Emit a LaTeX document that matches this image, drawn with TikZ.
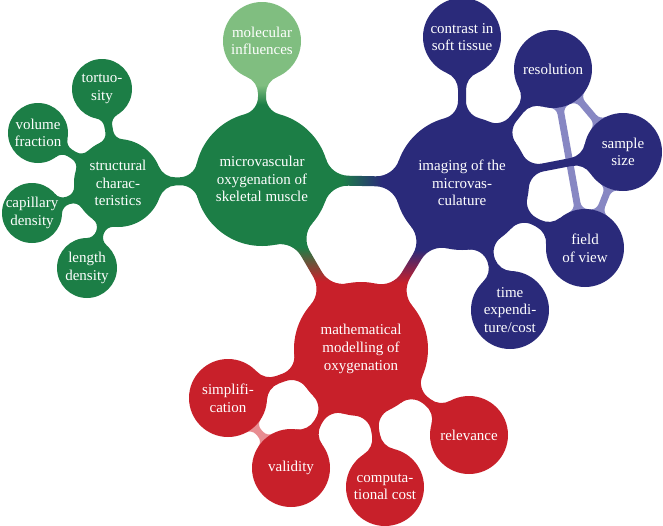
\documentclass[tikz,border=0pt]{standalone}
\usepackage{fontspec}
\setmainfont{Liberation Serif}
\usetikzlibrary{backgrounds}

\definecolor{musclegreen}{RGB}{28,126,70}
\definecolor{softgreen}{RGB}{128,190,128}
\definecolor{imgblue}{RGB}{42,42,122}
\definecolor{modelred}{RGB}{200,32,42}
\definecolor{barblue}{RGB}{135,135,195}
\definecolor{barred}{RGB}{232,140,145}

\pgfdeclarehorizontalshading{greenblue}{100bp}{color(0bp)=(musclegreen); color(45bp)=(musclegreen);
  color(55bp)=(imgblue); color(100bp)=(imgblue)}
\pgfdeclareverticalshading{greenred}{100bp}{color(0bp)=(modelred); color(45bp)=(modelred);
  color(55bp)=(musclegreen); color(100bp)=(musclegreen)}
\pgfdeclareverticalshading{bluered}{100bp}{color(0bp)=(modelred); color(45bp)=(modelred);
  color(55bp)=(imgblue); color(100bp)=(imgblue)}
\pgfdeclareverticalshading{greensoft}{100bp}{color(0bp)=(musclegreen); color(52bp)=(musclegreen);
  color(59bp)=(softgreen); color(100bp)=(softgreen)}

% neck between two round nodes: [path options]{from}{to}{r from}{r to}{fillet}{half width}, all in pt
\newcommand\neck[7][]{%
  \pgfpointdiff{\pgfpointanchor{#2}{center}}{\pgfpointanchor{#3}{center}}%
  \pgfgetlastxy{\nkdx}{\nkdy}%
  \pgfmathsetmacro\nkrot{atan2(\nkdy,\nkdx)}%
  \pgfmathsetmacro\nkd{veclen(\nkdx,\nkdy)}%
  \pgfmathsetmacro\nka{sqrt((#4-#7)*(#4+#7+2*#6))}%
  \pgfmathsetmacro\nkb{sqrt((#5-#7)*(#5+#7+2*#6))}%
  \pgfmathsetmacro\nkalpha{atan2(#7+#6,\nka)}%
  \pgfmathsetmacro\nkbeta{atan2(#7+#6,\nkb)}%
  \begin{scope}[shift={(#2.center)}, rotate=\nkrot, x=1pt, y=1pt]
    \path[#1] (0,0) -- (\nkalpha:#4)
      arc[start angle=\nkalpha+180, end angle=270, radius=#6]
      -- (\nkd-\nkb,#7)
      arc[start angle=270, end angle=360-\nkbeta, radius=#6]
      -- (\nkd,0) -- ({\nkd+#5*cos(180+\nkbeta)},{#5*sin(180+\nkbeta)})
      arc[start angle=\nkbeta, end angle=90, radius=#6]
      -- (\nka,-#7)
      arc[start angle=90, end angle=180-\nkalpha, radius=#6]
      -- cycle;
  \end{scope}}

\begin{document}
\begin{tikzpicture}[
    x=0.5pt, y=-0.5pt,
    font=\fontsize{7.5}{8.8}\selectfont,
    hub/.style={circle, fill=#1, text=white, align=center, inner sep=0pt,
                minimum size=67pt},
    leaf/.style={circle, fill=#1, text=white, align=center, inner sep=-2pt,
                 minimum size=39pt},
    twig/.style={circle, fill=#1, text=white, align=center, inner sep=-2pt,
                 minimum size=30pt}]

    \useasboundingbox (0,0) rectangle (663,525);

    % green part
    \node[hub=musclegreen]  (muscle)     at (262,179) {microvascular\\oxygenation of\\skeletal muscle};
    \node[leaf=softgreen]   (molecular)  at (262,41)  {molecular\\influences};
    \node[hub=musclegreen, minimum size=44pt] (structural) at (118,183) {structural\\charac-\\teristics};
    \node[twig=musclegreen] (tortuosity) at (102,89)  {tortuo-\\sity};
    \node[twig=musclegreen] (volume)     at (38,133)  {volume\\fraction};
    \node[twig=musclegreen] (capillary)  at (32,213)  {capillary\\density};
    \node[twig=musclegreen] (length)     at (87,268)  {length\\density};

    % blue part
    \node[hub=imgblue]  (imaging)    at (462,183) {imaging of the\\microvas-\\culature};
    \node[leaf=imgblue] (contrast)   at (462,37)  {contrast in\\soft tissue};
    \node[leaf=imgblue] (resolution) at (553,69)  {resolution};
    \node[leaf=imgblue] (sample)     at (623,152) {sample\\size};
    \node[leaf=imgblue] (fieldview)  at (585,248) {field\\of view};
    \node[leaf=imgblue] (timecost)   at (510,310) {time\\expendi-\\ture/cost};

    % red part
    \node[hub=modelred]  (modelling)  at (361,349) {mathematical\\modelling of\\oxygenation};
    \node[leaf=modelred] (simplify)   at (228,398) {simplifi-\\cation};
    \node[leaf=modelred] (validity)   at (291,468) {validity};
    \node[leaf=modelred] (compcost)   at (385,487) {computa-\\tional cost};
    \node[leaf=modelred] (relevance)  at (469,435) {relevance};

    \begin{pgfonlayer}{background}
      % cross links
      \neck[fill=barblue]{resolution}{fieldview}{19.5}{19.5}{4}{1.75}
      \neck[fill=barblue]{resolution}{sample}{19.5}{19.5}{4}{1.75}
      \neck[fill=barblue]{sample}{fieldview}{19.5}{19.5}{4}{1.75}
      \neck[fill=barred]{simplify}{validity}{19.5}{19.5}{4}{1.75}

      % main links
      \neck[shade, shading=greenblue]{muscle}{imaging}{33.5}{33.5}{12}{2.5}
      \neck[shade, shading=greenred]{muscle}{modelling}{33.5}{33.5}{12}{2.5}
      \neck[shade, shading=bluered]{imaging}{modelling}{33.5}{33.5}{12}{2.5}

      \neck[shade, shading=greensoft]{muscle}{molecular}{33.5}{19.5}{9}{2}
      \neck[fill=musclegreen]{muscle}{structural}{33.5}{22}{9}{2}
      \foreach \leafname in {tortuosity,volume,capillary,length}
        {\neck[fill=musclegreen]{structural}{\leafname}{22}{15}{5}{2}}
      \foreach \leafname in {contrast,resolution,sample,fieldview,timecost}
        {\neck[fill=imgblue]{imaging}{\leafname}{33.5}{19.5}{9}{2}}
      \foreach \leafname in {simplify,validity,compcost,relevance}
        {\neck[fill=modelred]{modelling}{\leafname}{33.5}{19.5}{9}{2}}
    \end{pgfonlayer}
\end{tikzpicture}
\end{document}
